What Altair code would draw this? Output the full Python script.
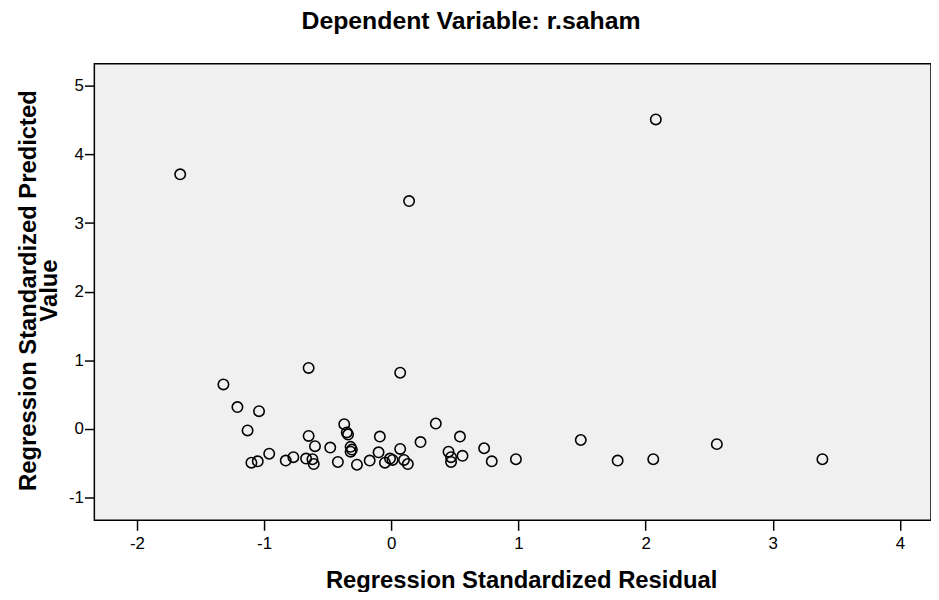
import altair as alt
import pandas as pd

resid = [-1.66, 2.08, 0.14, -1.32, -0.65, 0.07, -1.21, -1.04, -1.13, -1.10,
         -1.05, -0.96, -0.83, -0.77, -0.67, -0.65, -0.60, -0.62, -0.61, -0.48,
         -0.42, -0.37, -0.35, -0.34, -0.32, -0.31, -0.32, -0.27, -0.17, -0.09,
         -0.10, -0.05, -0.01, 0.01, 0.07, 0.10, 0.13, 0.23, 0.35, 0.45,
         0.47, 0.47, 0.54, 0.56, 0.73, 0.79, 0.98, 1.49, 1.78, 2.06,
         2.56, 3.39]
pred = [3.71, 4.51, 3.32, 0.65, 0.89, 0.82, 0.32, 0.26, -0.02, -0.49,
        -0.47, -0.36, -0.46, -0.41, -0.43, -0.10, -0.25, -0.44, -0.51, -0.27,
        -0.48, 0.07, -0.05, -0.08, -0.26, -0.30, -0.33, -0.52, -0.46, -0.11,
        -0.34, -0.49, -0.43, -0.45, -0.29, -0.45, -0.51, -0.19, 0.08, -0.33,
        -0.41, -0.48, -0.11, -0.39, -0.28, -0.47, -0.44, -0.16, -0.46, -0.44,
        -0.22, -0.44]
x_ticks = [-2, -1, 0, 1, 2, 3, 4]
y_ticks = [-1, 0, 1, 2, 3, 4, 5]

df = pd.DataFrame({"resid": resid, "pred": pred})

FONT = "Liberation Sans"

chart = alt.Chart(df).mark_point(
    shape="circle", filled=False, stroke="black", strokeWidth=1.6, size=110, opacity=1
).encode(
    x=alt.X("resid:Q",
            scale=alt.Scale(domain=[-2.335, 4.244], nice=False, zero=False),
            axis=alt.Axis(values=x_ticks, grid=False, domain=False, tickSize=10,
                          tickColor="black", tickWidth=1.5, labelPadding=5,
                          labelExpr="'' + datum.value",
                          labelFontSize=17, labelFont=FONT, labelColor="black",
                          title="Regression Standardized Residual",
                          titleFont=FONT, titleFontSize=24, titleFontWeight="bold",
                          titleColor="black", titleX=430, titleY=49,
                          titleBaseline="top", titleAlign="center")),
    y=alt.Y("pred:Q",
            scale=alt.Scale(domain=[-1.33, 5.32], nice=False, zero=False),
            axis=alt.Axis(values=y_ticks, grid=False, domain=False, tickSize=10,
                          tickColor="black", tickWidth=1.5, labelPadding=1,
                          labelExpr="'' + datum.value",
                          labelFontSize=17, labelFont=FONT, labelColor="black",
                          title=["Regression Standardized Predicted", "Value"],
                          titleFont=FONT, titleFontSize=24, titleFontWeight="bold",
                          titleColor="black", titleAngle=-90, titleX=-54, titleY=228,
                          titleAlign="center", titleBaseline="bottom",
                          titleLineHeight=21)),
).properties(
    width=843,
    height=460,
    background="white",
    autosize=alt.AutoSizeParams(type="none"),
    padding={"left": 87, "top": 54, "right": 0, "bottom": 70},
    title=alt.TitleParams("Dependent Variable: r.saham", font=FONT, fontSize=25,
                          fontWeight="bold", color="black", anchor="middle",
                          dx=-42, offset=30),
).configure_view(
    fill="#F0F0F0", stroke="black", strokeWidth=1.5
)

chart.save("out.html", embed_options={"renderer": "svg", "actions": False})
